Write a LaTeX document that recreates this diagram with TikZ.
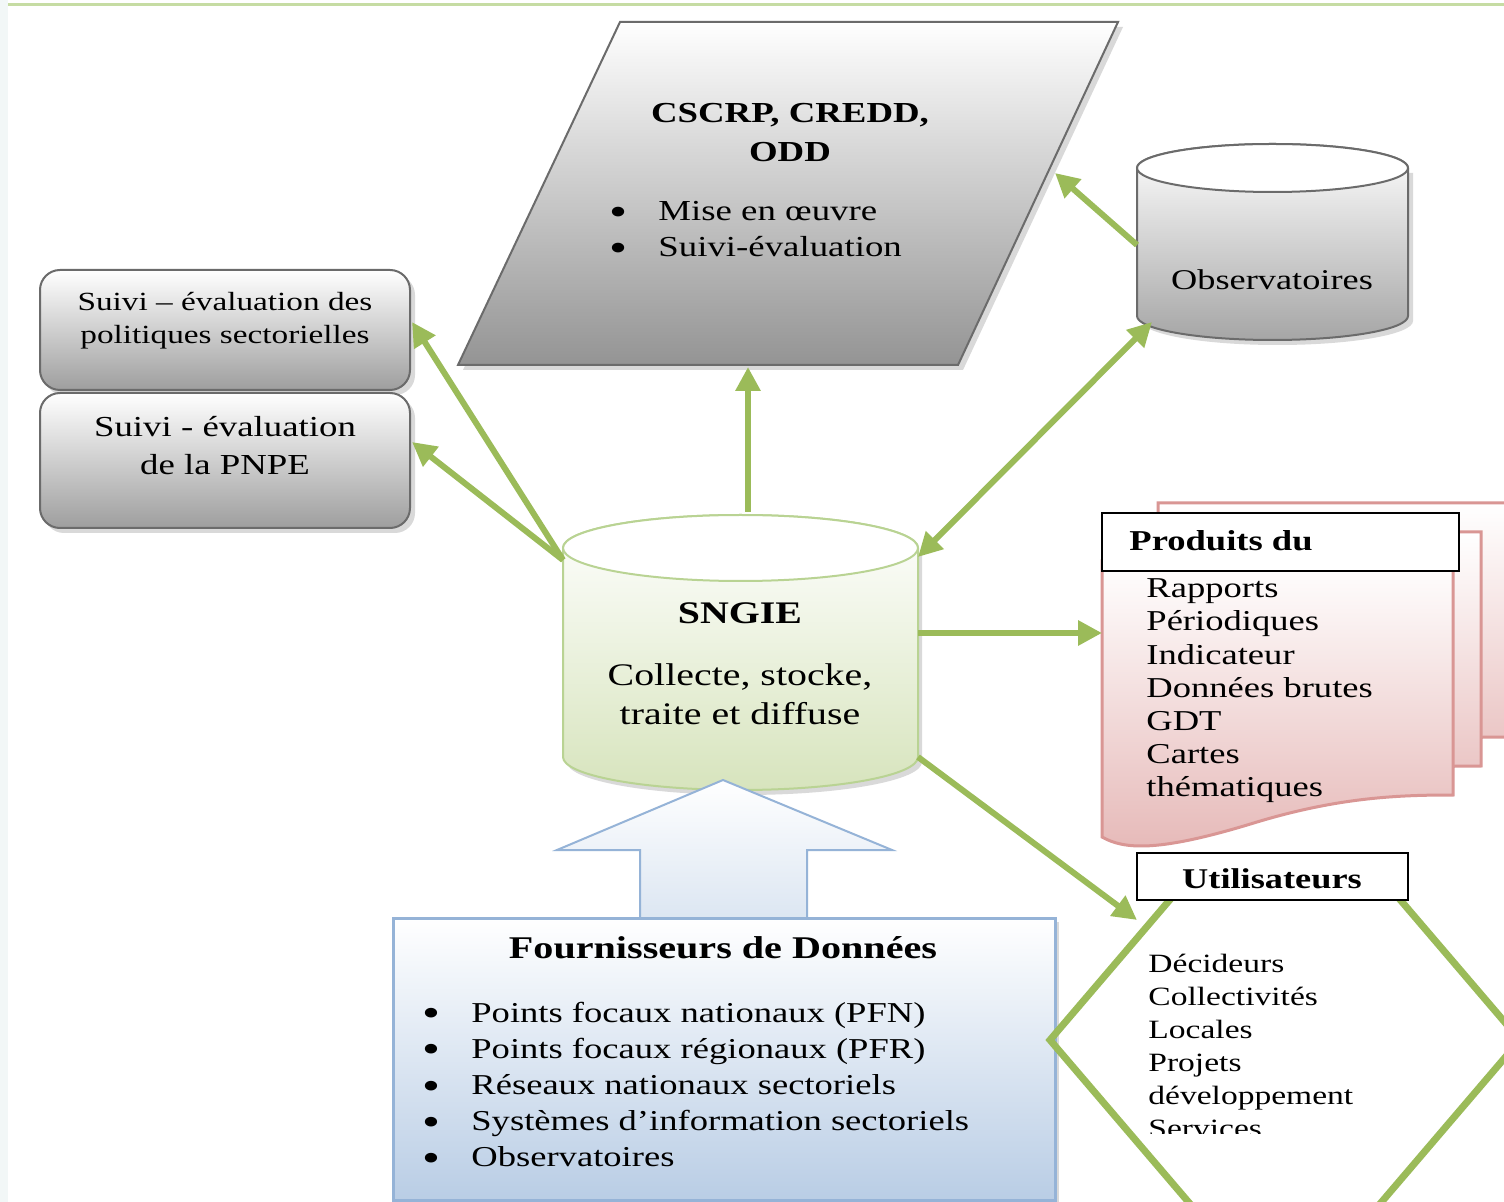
\documentclass[tikz,border=0pt]{standalone}
\usepackage{fontspec}
\setmainfont[FakeStretch=1.27]{Liberation Serif}
\usetikzlibrary{arrows.meta}

\definecolor{vertfleche}{HTML}{9BBB59}
\definecolor{vertligne}{HTML}{C6DCA3}
\definecolor{vertclair}{HTML}{D7E4BD}
\definecolor{vertbord}{HTML}{B9D393}
\definecolor{bleuclair}{HTML}{B9CDE5}
\definecolor{bleubord}{HTML}{95B3D7}
\definecolor{roseclair}{HTML}{E6B9B8}
\definecolor{rosebord}{HTML}{D99694}
\definecolor{gristrait}{HTML}{6B6B6B}
\definecolor{fond}{HTML}{F2F7F7}

\newcommand{\puce}{\makebox[24.5pt][l]{\smash{\raisebox{-0.35ex}{\scalebox{1.4}{\textbullet}}}}}
\newcommand{\taille}[2]{\fontsize{#1}{#2}\selectfont}

\begin{document}
\begin{tikzpicture}[x=0.5pt,y=-0.5pt,
  every node/.style={inner sep=0pt},
  fleche/.style={draw=vertfleche,line width=3pt,-{Triangle[length=12pt,width=12pt]}},
  ombre/.style={fill=black!15,draw=none},
  boitegrise/.style={draw=gristrait,line width=1pt,rounded corners=10pt,top color=white,bottom color=black!38}]

  \useasboundingbox (0,0) rectangle (1504,1202);
  \clip (0,0) rectangle (1504,1202);
  \fill[white] (0,0) rectangle (1504,1202);
  \fill[fond] (0,0) rectangle (8,1202);
  \draw[vertligne,line width=1.5pt] (8,4.5) -- (1504,4.5);

  % parallelogramme du haut
  \fill[ombre] (625,27) -- (1123,27) -- (963,370) -- (463,370) -- cycle;
  \draw[draw=gristrait,line width=1pt,top color=white,bottom color=black!42]
    (620,22) -- (1118,22) -- (958,365) -- (458,365) -- cycle;
  \node[font=\bfseries\taille{14.5pt}{19.5pt},align=center] (cadre) at (790,133) {CSCRP, CREDD,\\ODD};
  \node[font=\taille{14.5pt}{18pt},align=left,anchor=west] (cadre-liste) at (609,229)
    {\puce Mise en œuvre\\\puce Suivi-évaluation};

  % observatoires
  \fill[ombre] (1142,173) -- (1142,321) arc[start angle=180,end angle=0,x radius=135.5,y radius=24] -- (1413,173) -- cycle;
  \draw[draw=gristrait,line width=1pt,top color=white,bottom color=black!35]
    (1137,168) -- (1137,316) arc[start angle=180,end angle=0,x radius=135.5,y radius=24]
    -- (1408,168) arc[start angle=0,end angle=-180,x radius=135.5,y radius=24] -- cycle;
  \draw[draw=gristrait,line width=1pt,fill=white] (1272.5,168) ellipse[x radius=135.5,y radius=24];
  \node[font=\taille{14.3pt}{18pt}] (obs) at (1272,280) {Observatoires};

  % boites de gauche
  \fill[ombre,rounded corners=10pt] (44,275) rectangle (415,395);
  \fill[ombre,rounded corners=10pt] (44,398) rectangle (415,533);
  \draw[boitegrise] (40,270) rectangle (410,390);
  \node[font=\taille{13.1pt}{16.5pt},align=center] (suivi-pol) at (225,321)
    {Suivi – évaluation des\\politiques sectorielles};
  \draw[boitegrise] (40,393) rectangle (410,528);
  \node[font=\taille{14.5pt}{19pt},align=center] (suivi-pnpe) at (225,446)
    {Suivi - évaluation\\de la PNPE};

  % SNGIE
  \fill[ombre] (567,553) -- (567,762) arc[start angle=180,end angle=0,x radius=177.5,y radius=33] -- (922,553) -- cycle;
  \draw[draw=vertbord,line width=1pt,top color=white,bottom color=vertclair]
    (563,548) -- (563,757) arc[start angle=180,end angle=0,x radius=177.5,y radius=33]
    -- (918,548) arc[start angle=0,end angle=-180,x radius=177.5,y radius=33] -- cycle;
  \draw[draw=vertbord,line width=1pt,fill=white] (740.5,548) ellipse[x radius=177.5,y radius=33];
  \node[font=\bfseries\taille{15.7pt}{19.5pt}] (sngie) at (740,613) {SNGIE};
  \node[font=\taille{15.7pt}{19.5pt},align=center] (sngie-texte) at (740,694)
    {Collecte, stocke,\\traite et diffuse};

  % fournisseurs
  \draw[draw=bleubord,line width=1pt,top color=white,bottom color=bleuclair!50!white]
    (640,918) -- (640,850) -- (557,850) -- (723,780) -- (892,850) -- (807,850) -- (807,918) -- cycle;
  \fill[ombre] (397,922) rectangle (1059,1206);
  \draw[draw=bleubord,line width=1.5pt,top color=white,bottom color=bleuclair] (393,918) rectangle (1055,1200);
  \node[font=\bfseries\taille{15.8pt}{19pt}] (fournisseurs) at (723,948) {Fournisseurs de Données};
  \node[font=\taille{14.4pt}{18.1pt},align=left,anchor=west] (fournisseurs-liste) at (422,1084.5)
    {\puce Points focaux nationaux (PFN)\\
     \puce Points focaux régionaux (PFR)\\
     \puce Réseaux nationaux sectoriels\\
     \puce Systèmes d’information sectoriels\\
     \puce Observatoires};

  % produits
  \foreach \dx/\dy in {56/-58,28/-29,0/0}
    \draw[shift={(\dx,\dy)},draw=rosebord,line width=1.5pt,top color=white,bottom color=roseclair]
      (1102,561) -- (1453,561) -- (1453,795) .. controls (1400,795) and (1340,797) .. (1257,822)
      .. controls (1160,852) and (1125,850) .. (1102,837) -- cycle;
  \draw[fill=white,line width=1pt] (1102,513) rectangle (1459,571);
  \node[font=\bfseries\taille{14.4pt}{18pt},anchor=west] (produits) at (1129,541) {Produits du};
  \node[font=\taille{14.4pt}{16.6pt},align=left,anchor=west] (produits-liste) at (1146,691)
    {Rapports\\Périodiques\\Indicateur\\Données brutes\\GDT\\Cartes\\thématiques};

  % utilisateurs
  \begin{scope}
    \clip (1000,900) rectangle (1504,1202);
    \draw[vertfleche,line width=3.5pt] (1050,1040) -- (1285,765) -- (1520,1040) -- (1285,1315) -- cycle;
  \end{scope}
  \draw[fill=white,line width=1pt] (1137,853) rectangle (1408,900);
  \node[font=\bfseries\taille{14.3pt}{18pt}] (utilisateurs) at (1272,879) {Utilisateurs};
  \begin{scope}
    \clip (1100,930) rectangle (1420,1133);
    \node[font=\taille{13.2pt}{16.5pt},align=left,anchor=west] (utilisateurs-liste) at (1148,1046)
      {Décideurs\\Collectivités\\Locales\\Projets\\développement\\Services};
  \end{scope}

  % fleches
  \coordinate (sngie-no) at (563,560);
  \coordinate (sngie-haut) at (748,512);
  \coordinate (sngie-ne) at (918,557);
  \coordinate (sngie-est) at (918,633);
  \coordinate (sngie-se) at (918,757);
  \coordinate (pol-est) at (412,322);
  \coordinate (pnpe-est) at (412,442);
  \coordinate (cadre-bas) at (748,367);
  \coordinate (cadre-droit) at (1055,173);
  \coordinate (obs-gauche) at (1137,245);
  \coordinate (obs-bas) at (1152,322);
  \coordinate (produits-ouest) at (1102,633);
  \coordinate (util-ouest) at (1137,920);

  \draw[fleche] (sngie-no) -- (pol-est);
  \draw[fleche] (sngie-no) -- (pnpe-est);
  \draw[fleche] (sngie-haut) -- (cadre-bas);
  \draw[fleche] (obs-gauche) -- (cadre-droit);
  \draw[fleche,{Triangle[length=12pt,width=12pt]}-{Triangle[length=12pt,width=12pt]}] (sngie-ne) -- (obs-bas);
  \draw[fleche] (sngie-est) -- (produits-ouest);
  \draw[fleche] (sngie-se) -- (util-ouest);
\end{tikzpicture}
\end{document}
